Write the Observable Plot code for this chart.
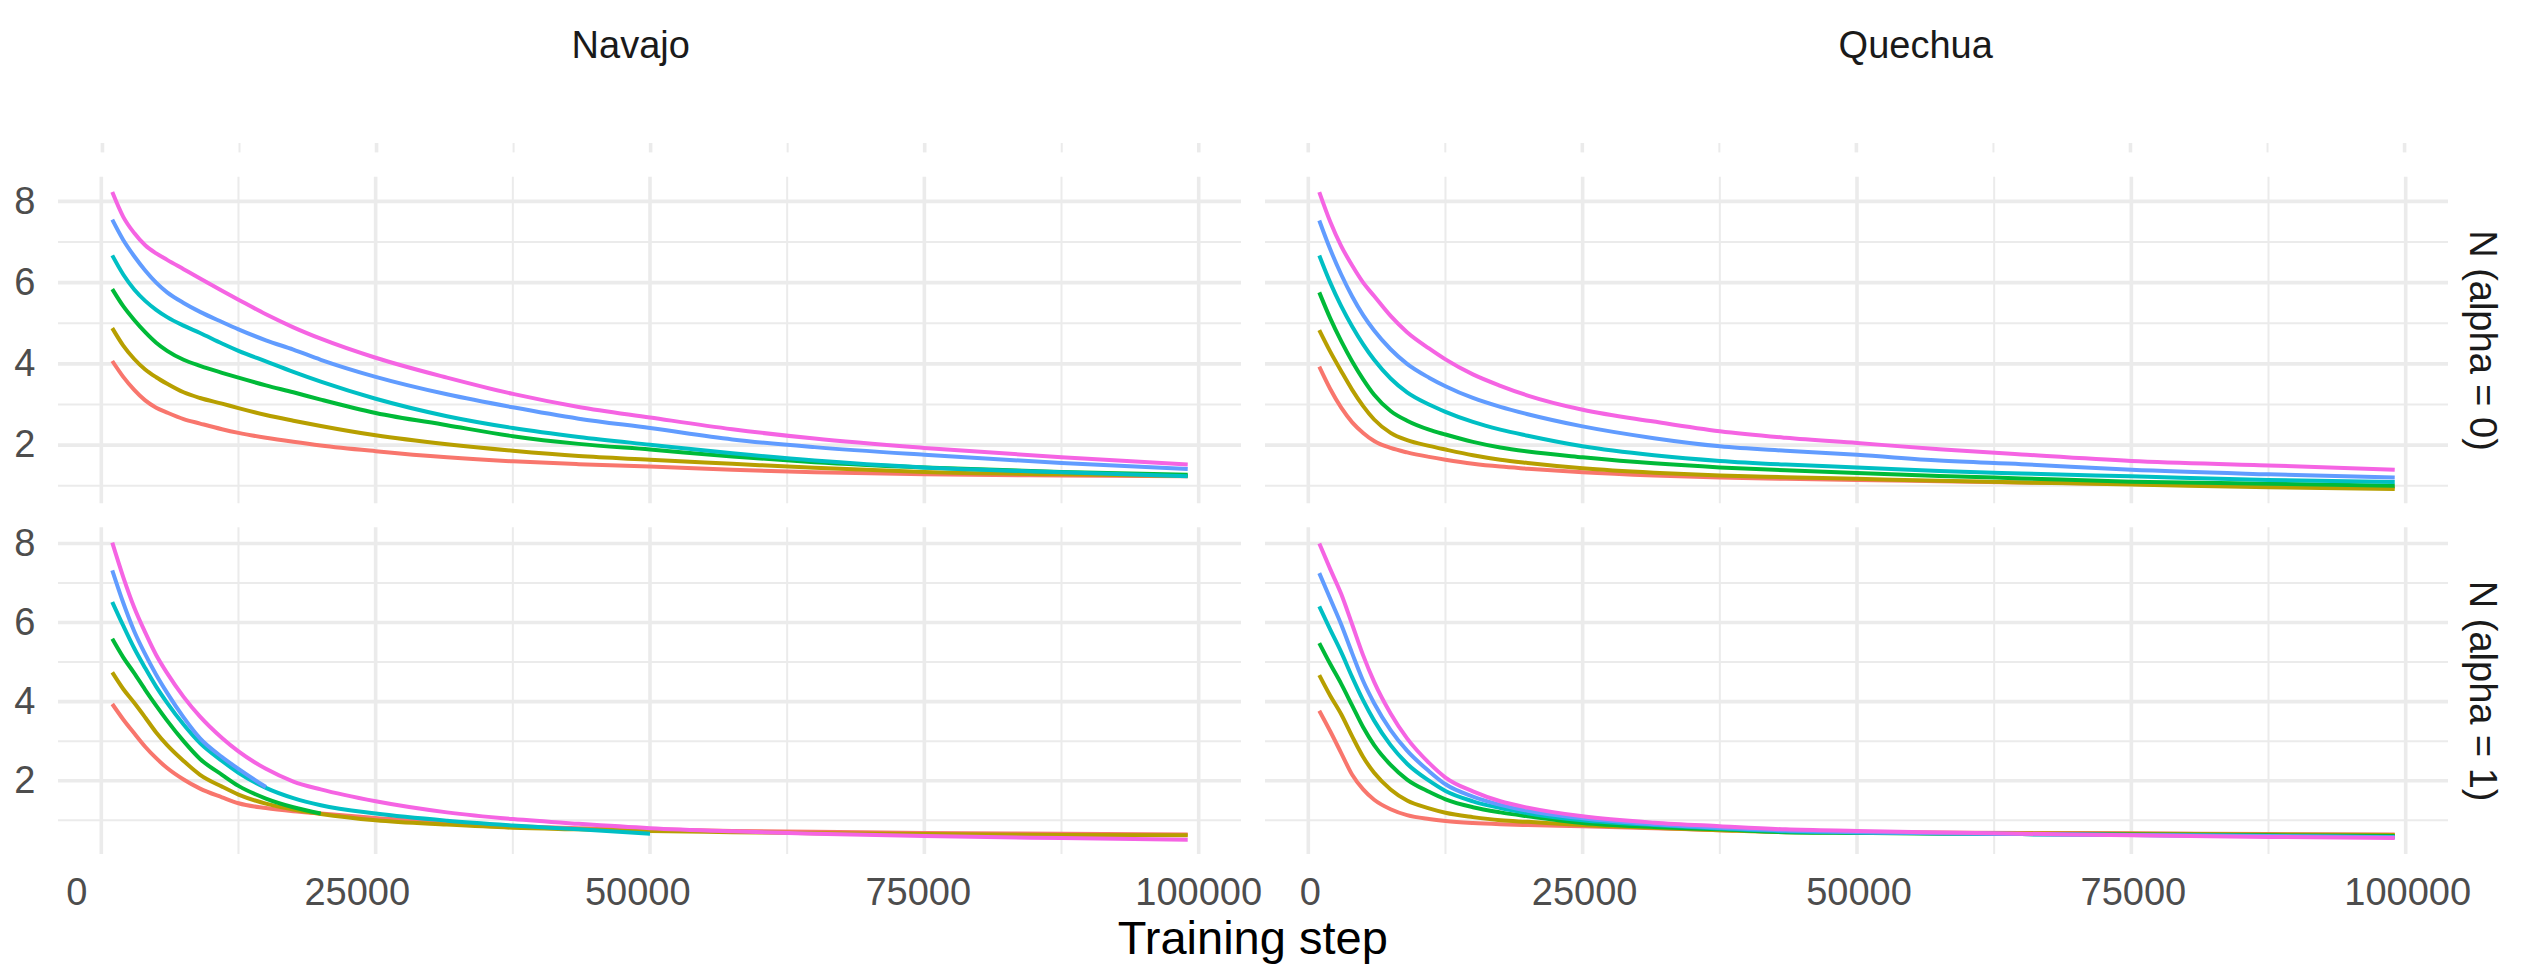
<!DOCTYPE html>
<html>
<head>
<meta charset="utf-8">
<script src="https://cdn.jsdelivr.net/npm/d3@7"></script>
<script src="https://cdn.jsdelivr.net/npm/@observablehq/plot@0.6"></script>
<style>
  html, body { margin: 0; padding: 0; background: #ffffff; }
  #chart { position: relative; width: 2531px; height: 972px; background: #ffffff;
           font-family: "Liberation Sans", Arial, Helvetica, sans-serif; }
  #chart svg { position: absolute; left: 0; }
  #xtitle { position: absolute; left: 57.3px; width: 2391px; text-align: center;
            font-size: 47px; line-height: 47px; top: 914px; color: #000000; }
</style>
</head>
<body>
<div id="chart"></div>
<script>
// ---------------- data ----------------
const languages = ["Navajo", "Quechua"];
const rowLabels = ["N (alpha = 0)", "N (alpha = 1)"];
const seriesNames = ["1", "2", "3", "4", "5", "6"];
const seriesColors = ["#F8766D", "#B79F00", "#00BA38", "#00BFC4", "#619CFF", "#F564E3"];
const xTitle = "Training step";

const steps = [1000, 2000, 3000, 4000, 5000, 6000, 7500, 9000, 11000, 12500, 15000, 17500,
               20000, 25000, 31500, 37500, 43500, 50000, 57500, 65000, 75000, 87500, 99000];

const xMajorTicks = [0, 25000, 50000, 75000, 100000];
const xMinorTicks = [12500, 37500, 62500, 87500];
const yMajorTicks = [2, 4, 6, 8];
const yMinorTicks = [1, 3, 5, 7];

// Navajo, alpha = 0 (one array per series)
const navajoAlpha0 = [
  [4.07, 3.68, 3.36, 3.10, 2.92, 2.80, 2.64, 2.53, 2.39, 2.30, 2.18, 2.08, 1.99, 1.85, 1.70, 1.60, 1.53, 1.47, 1.39, 1.33, 1.28, 1.25, 1.23],
  [4.88, 4.45, 4.12, 3.86, 3.67, 3.51, 3.30, 3.16, 3.02, 2.91, 2.74, 2.60, 2.47, 2.24, 2.02, 1.86, 1.73, 1.64, 1.54, 1.44, 1.34, 1.28, 1.24],
  [5.84, 5.42, 5.08, 4.78, 4.52, 4.32, 4.10, 3.95, 3.78, 3.66, 3.47, 3.30, 3.12, 2.79, 2.49, 2.22, 2.03, 1.89, 1.72, 1.58, 1.45, 1.34, 1.27],
  [6.67, 6.20, 5.83, 5.55, 5.33, 5.15, 4.94, 4.76, 4.50, 4.32, 4.06, 3.80, 3.56, 3.14, 2.71, 2.42, 2.20, 2.01, 1.80, 1.62, 1.45, 1.33, 1.23],
  [7.55, 7.05, 6.65, 6.30, 6.00, 5.76, 5.50, 5.28, 5.03, 4.85, 4.58, 4.35, 4.10, 3.68, 3.25, 2.93, 2.65, 2.42, 2.14, 1.95, 1.76, 1.56, 1.41],
  [8.23, 7.62, 7.22, 6.92, 6.72, 6.56, 6.33, 6.10, 5.80, 5.58, 5.22, 4.90, 4.62, 4.15, 3.66, 3.26, 2.94, 2.68, 2.39, 2.16, 1.93, 1.70, 1.52]
];

// Quechua, alpha = 0
const quechuaAlpha0 = [
  [3.93, 3.38, 2.92, 2.56, 2.30, 2.10, 1.93, 1.82, 1.71, 1.64, 1.54, 1.47, 1.42, 1.33, 1.25, 1.20, 1.17, 1.14, 1.11, 1.08, 1.04, 0.99, 0.96],
  [4.83, 4.30, 3.82, 3.36, 2.96, 2.63, 2.30, 2.12, 1.98, 1.89, 1.75, 1.64, 1.56, 1.43, 1.32, 1.25, 1.21, 1.17, 1.12, 1.08, 1.03, 0.96, 0.92],
  [5.76, 5.12, 4.56, 4.06, 3.62, 3.24, 2.84, 2.60, 2.38, 2.26, 2.08, 1.94, 1.84, 1.70, 1.55, 1.45, 1.38, 1.31, 1.24, 1.18, 1.10, 1.05, 1.00],
  [6.67, 6.00, 5.42, 4.92, 4.48, 4.10, 3.64, 3.30, 3.00, 2.82, 2.57, 2.38, 2.23, 1.97, 1.75, 1.61, 1.52, 1.45, 1.36, 1.30, 1.23, 1.14, 1.09],
  [7.53, 6.82, 6.20, 5.66, 5.20, 4.82, 4.36, 4.00, 3.66, 3.45, 3.16, 2.94, 2.76, 2.46, 2.17, 1.97, 1.86, 1.76, 1.62, 1.53, 1.39, 1.28, 1.20],
  [8.23, 7.50, 6.90, 6.42, 6.00, 5.67, 5.18, 4.78, 4.38, 4.11, 3.74, 3.46, 3.22, 2.87, 2.58, 2.34, 2.18, 2.05, 1.90, 1.77, 1.61, 1.50, 1.39]
];

// Navajo, alpha = 1 (some runs stop early: null = no value)
const navajoAlpha1 = [
  [3.94, 3.55, 3.20, 2.86, 2.57, 2.32, 2.03, 1.80, 1.58, 1.43, 1.31, 1.23, 1.17, 1.06, 0.93, 0.85, 0.80, 0.77, 0.73, 0.71, 0.68, 0.66, 0.64],
  [4.74, 4.32, 3.97, 3.60, 3.22, 2.90, 2.50, 2.15, 1.85, 1.65, 1.42, 1.27, 1.16, 1.00, 0.89, 0.81, 0.77, 0.73, 0.70, 0.67, 0.65, 0.63, 0.62],
  [5.59, 5.12, 4.72, 4.30, 3.90, 3.52, 3.00, 2.55, 2.15, 1.87, 1.55, 1.33, 1.17, null, null, null, null, null, null, null, null, null, null],
  [6.52, 5.92, 5.35, 4.85, 4.38, 3.97, 3.42, 2.95, 2.50, 2.20, 1.82, 1.56, 1.38, 1.17, 0.99, 0.87, 0.77, 0.66, null, null, null, null, null],
  [7.32, 6.50, 5.78, 5.20, 4.68, 4.22, 3.60, 3.07, 2.60, 2.30, 1.84, null, null, null, null, null, null, null, null, null, null, null, null],
  [8.02, 7.15, 6.38, 5.75, 5.18, 4.72, 4.12, 3.62, 3.08, 2.74, 2.30, 1.98, 1.78, 1.48, 1.20, 1.03, 0.91, 0.80, 0.72, 0.66, 0.60, 0.55, 0.51]
];

// Quechua, alpha = 1
const quechuaAlpha1 = [
  [3.77, 3.25, 2.70, 2.15, 1.78, 1.52, 1.28, 1.13, 1.03, 0.98, 0.93, 0.90, 0.88, 0.85, 0.80, 0.75, 0.71, 0.70, 0.69, 0.68, 0.67, 0.65, 0.64],
  [4.67, 4.15, 3.68, 3.12, 2.60, 2.20, 1.78, 1.50, 1.30, 1.19, 1.08, 1.00, 0.96, 0.88, 0.81, 0.75, 0.70, 0.69, 0.68, 0.67, 0.66, 0.64, 0.63],
  [5.48, 4.95, 4.45, 3.90, 3.35, 2.90, 2.40, 2.03, 1.72, 1.53, 1.33, 1.20, 1.10, 0.93, 0.83, 0.77, 0.70, 0.68, 0.66, 0.65, 0.64, 0.62, 0.60],
  [6.41, 5.82, 5.25, 4.62, 4.03, 3.52, 2.90, 2.43, 2.00, 1.74, 1.48, 1.31, 1.18, 1.00, 0.88, 0.79, 0.72, 0.69, 0.67, 0.65, 0.63, 0.60, 0.58],
  [7.25, 6.60, 5.95, 5.22, 4.52, 3.96, 3.28, 2.76, 2.24, 1.91, 1.60, 1.39, 1.24, 1.05, 0.90, 0.81, 0.74, 0.70, 0.67, 0.65, 0.63, 0.60, 0.57],
  [8.00, 7.35, 6.72, 5.95, 5.17, 4.50, 3.70, 3.07, 2.45, 2.08, 1.73, 1.48, 1.32, 1.10, 0.94, 0.85, 0.77, 0.73, 0.69, 0.66, 0.62, 0.58, 0.55]
];

// ---------------- build tables ----------------
const panelRows = [
  [{lang: languages[0], values: navajoAlpha0}, {lang: languages[1], values: quechuaAlpha0}],
  [{lang: languages[0], values: navajoAlpha1}, {lang: languages[1], values: quechuaAlpha1}]
];
function rowTable(row) {
  const out = [];
  for (const p of panelRows[row]) {
    p.values.forEach((vals, si) => vals.forEach((v, i) => {
      if (v != null) out.push({lang: p.lang, series: seriesNames[si], step: steps[i], value: v});
    }));
  }
  return out;
}
function expanded(extent) { // ggplot-like 5% expansion
  const pad = 0.05 * (extent[1] - extent[0]);
  return [extent[0] - pad, extent[1] + pad];
}
const allSteps = panelRows.flat().flatMap(p => p.values.flatMap(vals => vals.map((v, i) => v != null ? steps[i] : null))).filter(d => d != null);
const xDomain = expanded(d3.extent(allSteps));

// ---------------- shared styling ----------------
const W = 2531, mL = 57.3, mR = 82.7;
const GRID = "#EBEBEB";
const FONT = "'Liberation Sans', Arial, Helvetica, sans-serif";
const fxScale = {domain: languages, paddingInner: 0.0197, paddingOuter: 0, axis: null};
const colorScale = {domain: seriesNames, range: seriesColors};
const tickFmt = d => String(d);

function gridMarks() {
  return [
    Plot.ruleY(yMinorTicks, {stroke: GRID, strokeWidth: 2}),
    Plot.ruleY(yMajorTicks, {stroke: GRID, strokeWidth: 3.6}),
    Plot.ruleX(xMinorTicks, {stroke: GRID, strokeWidth: 2}),
    Plot.ruleX(xMajorTicks, {stroke: GRID, strokeWidth: 3.6})
  ];
}
function lineMark(data) {
  return Plot.line(data, {x: "step", y: "value", z: "series", stroke: "series", fx: "lang",
    strokeWidth: 4, curve: "monotone-x", strokeLinecap: "butt", strokeLinejoin: "round"});
}
function yAxisMark() {
  return Plot.axisY(yMajorTicks, {anchor: "left", facetAnchor: "left", tickSize: 0, tickPadding: 23,
    fontSize: 38, color: "#4D4D4D", label: null, tickFormat: tickFmt});
}
function rightStrip(label) {
  return Plot.text([label], {fx: () => languages[1], text: d => d, frameAnchor: "right", rotate: 90,
    textAnchor: "middle", dx: 34, fontSize: 38, fill: "#1A1A1A"});
}
// x tick labels: in the reference the Navajo labels sit progressively left of their grid lines
function xTickLabels() {
  const marks = [];
  for (const t of xMajorTicks) {
    marks.push(Plot.text([{lang: languages[0], t}], {x: "t", fx: "lang", text: d => tickFmt(d.t),
      frameAnchor: "bottom", lineAnchor: "top", dy: 24, dx: -24.5 + 0.000245 * t,
      fontSize: 38, fill: "#4D4D4D"}));
  }
  marks.push(Plot.text(xMajorTicks.map(t => ({lang: languages[1], t})), {x: "t", fx: "lang",
    text: d => tickFmt(d.t), frameAnchor: "bottom", lineAnchor: "top", dy: 24, dx: 2,
    fontSize: 38, fill: "#4D4D4D"}));
  return marks;
}

const chart = document.getElementById("chart");
function place(svg, top) {
  svg.style.position = "absolute";
  svg.style.top = top + "px";
  svg.style.left = "0px";
  svg.style.background = "none";
  svg.style.overflow = "visible";
  svg.style.maxWidth = "none";
  chart.appendChild(svg);
}

// ---------------- row 1 ----------------
const data1 = rowTable(0);
const row1 = Plot.plot({
  width: W, height: 515,
  marginTop: 176.7, marginBottom: 11.7, marginLeft: mL, marginRight: mR,
  style: {fontFamily: FONT, background: "none", overflow: "visible"},
  x: {domain: xDomain, axis: null},
  y: {domain: expanded(d3.extent(data1, d => d.value))},
  fx: fxScale,
  color: colorScale,
  marks: [
    ...gridMarks(),
    lineMark(data1),
    yAxisMark(),
    Plot.text([languages[0]], {fx: d => d, text: d => d, frameAnchor: "top", dy: -146.2, dx: -19.3, fontSize: 38, fill: "#1A1A1A"}),
    Plot.text([languages[1]], {fx: d => d, text: d => d, frameAnchor: "top", dy: -146.2, dx: 58.7, fontSize: 38, fill: "#1A1A1A"}),
    rightStrip(rowLabels[0])
  ]
});
place(row1, 0);

// thin band of vertical grid stubs above the first row (as in the reference)
const stubMajor = languages.flatMap(lang => xMajorTicks.map(t => ({lang, t})));
const stubMinor = languages.flatMap(lang => xMinorTicks.map(t => ({lang, t})));
const stubs = Plot.plot({
  width: W, height: 9.4,
  marginTop: 0, marginBottom: 0, marginLeft: mL, marginRight: mR,
  style: {background: "none", overflow: "visible"},
  x: {domain: xDomain, axis: null},
  fx: fxScale,
  marks: [
    Plot.ruleX(stubMinor, {x: "t", fx: "lang", stroke: GRID, strokeWidth: 2}),
    Plot.ruleX(stubMajor, {x: "t", fx: "lang", stroke: GRID, strokeWidth: 3.6})
  ]
});
place(stubs, 143.3);

// ---------------- row 2 ----------------
const data2 = rowTable(1);
const row2 = Plot.plot({
  width: W, height: 457,
  marginTop: 12.3, marginBottom: 118, marginLeft: mL, marginRight: mR,
  style: {fontFamily: FONT, background: "none", overflow: "visible"},
  x: {domain: xDomain, axis: null},
  y: {domain: expanded(d3.extent(data2, d => d.value))},
  fx: fxScale,
  color: colorScale,
  marks: [
    ...gridMarks(),
    lineMark(data2),
    yAxisMark(),
    ...xTickLabels(),
    rightStrip(rowLabels[1])
  ]
});
place(row2, 515);

const title = document.createElement("div");
title.id = "xtitle";
title.textContent = xTitle;
chart.appendChild(title);
</script>
</body>
</html>
